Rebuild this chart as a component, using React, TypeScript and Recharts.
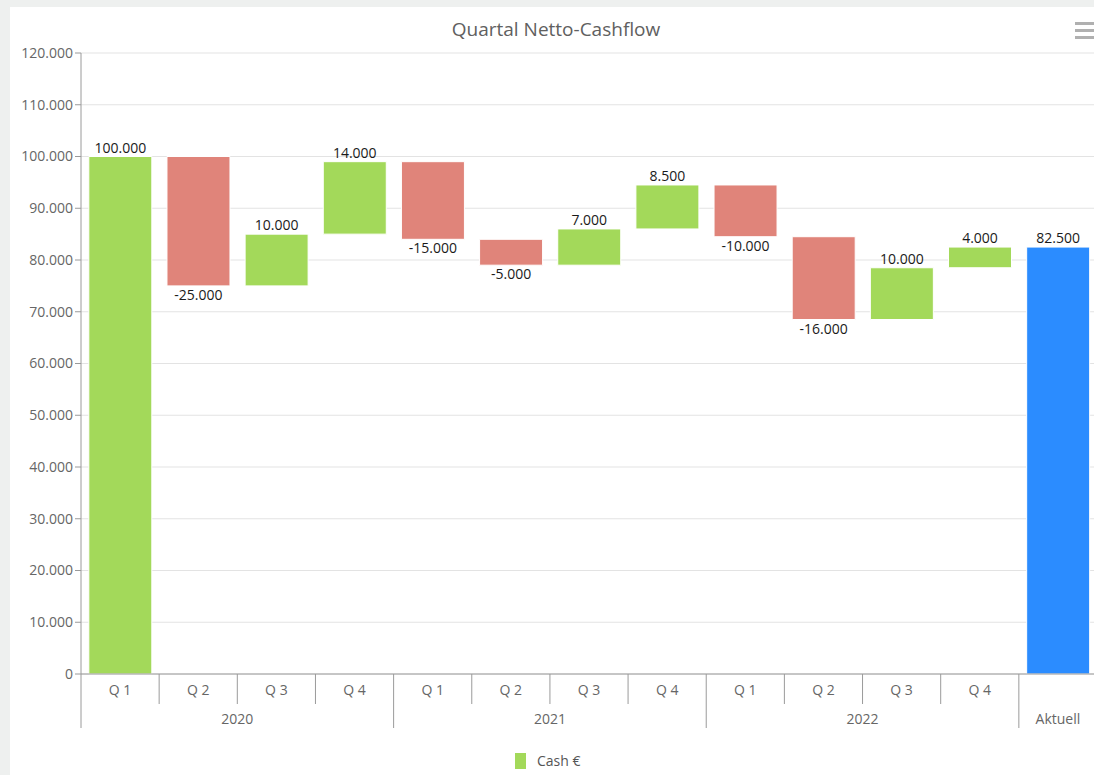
import React from "react";
import { Bar, BarChart, CartesianGrid, Cell, LabelList, XAxis, YAxis } from "recharts";

// quarter labels (lower axis row) and the year each quarter belongs to
const quarters = ["Q 1", "Q 2", "Q 3", "Q 4", "Q 1", "Q 2", "Q 3", "Q 4", "Q 1", "Q 2", "Q 3", "Q 4"];
const years = ["2020", "2020", "2020", "2020", "2021", "2021", "2021", "2021", "2022", "2022", "2022", "2022"];
const sumLabel = "Aktuell";

// net cashflow per quarter (first value = starting cash)
const cashflow = [100000, -25000, 10000, 14000, -15000, -5000, 7000, 8500, -10000, -16000, 10000, 4000];

const yTicks = [0, 10000, 20000, 30000, 40000, 50000, 60000, 70000, 80000, 90000, 100000, 110000, 120000];

const COLORS = { up: "#a3d95a", down: "#e0847a", sum: "#2b8cff" };

type Row = {
  key: string;
  quarter: string;
  year: string;
  change: number;
  range: [number, number];
  kind: "up" | "down" | "sum";
};

let running = 0;
const data: Row[] = cashflow.map((v, i) => {
  const start = running;
  running += v;
  return {
    key: `${years[i]} ${quarters[i]}`,
    quarter: quarters[i],
    year: years[i],
    change: v,
    range: [Math.min(start, running), Math.max(start, running)],
    kind: v >= 0 ? "up" : "down",
  };
});
data.push({ key: sumLabel, quarter: "", year: sumLabel, change: running, range: [0, running], kind: "sum" });

// layout (svg coords == page coords)
const CHART_W = 1110;
const CHART_H = 775;
const PLOT_LEFT = 81;
const PLOT_TOP = 53;
const PLOT_RIGHT = 1097;
const PLOT_BOTTOM = 674;
const BW = (PLOT_RIGHT - PLOT_LEFT) / data.length;
const AXIS_COLOR = "#9a9a9a";
const LABEL_COLOR = "#666666";
const FONT = 14;

const fmt = (v: number) => {
  const s = Math.abs(v).toFixed(0).replace(/\B(?=(\d{3})+(?!\d))/g, ".");
  return v < 0 ? `-${s}` : s;
};

const XTick = (props: any) => {
  const { x, index } = props;
  const d = data[index];
  if (!d) return null;
  const left = x - BW / 2;
  const groupStart = index === 0 || data[index - 1].year !== d.year;
  let span = 1;
  while (index + span < data.length && data[index + span].year === d.year) span++;
  return (
    <g>
      <line x1={left} x2={left} y1={PLOT_BOTTOM} y2={groupStart ? 728 : 704} stroke={AXIS_COLOR} strokeWidth={1} />
      {d.quarter && (
        <text x={x} y={695} textAnchor="middle" fill={LABEL_COLOR} fontSize={FONT}>
          {d.quarter}
        </text>
      )}
      {groupStart && (
        <text x={left + (span * BW) / 2} y={724} textAnchor="middle" fill={LABEL_COLOR} fontSize={FONT}>
          {d.year}
        </text>
      )}
    </g>
  );
};

const renderLabel = (props: any) => {
  const { x, y, width, height, value } = props;
  const top = Math.min(Number(y), Number(y) + Number(height));
  const bottom = Math.max(Number(y), Number(y) + Number(height));
  const cx = Number(x) + Number(width) / 2;
  const below = Number(value) < 0;
  return (
    <text x={cx} y={below ? bottom + 14 : top - 4} textAnchor="middle" fontSize={FONT} fill="#1a1a1a">
      {fmt(Number(value))}
    </text>
  );
};

export default function App() {
  return (
    <div
      style={{
        position: "fixed",
        left: 0,
        top: 0,
        width: 1094,
        height: 775,
        overflow: "hidden",
        background: "#eef0ef",
        fontFamily: "'Open Sans', sans-serif",
      }}
    >
      <div style={{ position: "absolute", left: 10, top: 7, right: 0, bottom: 0, background: "#ffffff" }} />
      <div style={{ position: "absolute", left: 0, width: 1110, top: 16, fontSize: 19, color: "#606060" }}>
        <span style={{ position: "absolute", left: 556, transform: "translateX(-50%)", whiteSpace: "nowrap" }}>
          Quartal Netto-Cashflow
        </span>
      </div>
      {[22, 29, 36].map((t) => (
        <div key={t} style={{ position: "absolute", left: 1075, top: t, width: 22, height: 3, background: "#b0b0b0" }} />
      ))}
      <div style={{ position: "absolute", left: 0, top: 0 }}>
        <BarChart
          width={CHART_W}
          height={CHART_H}
          data={data}
          margin={{ top: PLOT_TOP, right: CHART_W - PLOT_RIGHT, bottom: 41, left: 0 }}
          barCategoryGap="10%"
        >
          <CartesianGrid vertical={false} stroke="#e3e3e3" />
          <YAxis
            width={PLOT_LEFT}
            domain={[0, 120000]}
            ticks={yTicks}
            interval={0}
            tickFormatter={fmt}
            tick={{ fontSize: FONT, fill: LABEL_COLOR }}
            axisLine={{ stroke: AXIS_COLOR }}
            tickLine={{ stroke: AXIS_COLOR }}
          />
          <XAxis
            dataKey="key"
            height={CHART_H - PLOT_BOTTOM - 41}
            interval={0}
            tick={<XTick />}
            tickLine={false}
            axisLine={{ stroke: AXIS_COLOR }}
          />
          <Bar dataKey="range" isAnimationActive={false} stroke="#ffffff" strokeWidth={1}>
            {data.map((d) => (
              <Cell key={d.key} fill={COLORS[d.kind]} />
            ))}
            <LabelList dataKey="change" content={renderLabel} />
          </Bar>
        </BarChart>
      </div>
      <div
        style={{
          position: "absolute",
          left: 515,
          top: 751,
          display: "flex",
          alignItems: "center",
          fontSize: FONT,
          color: "#555555",
        }}
      >
        <span style={{ display: "inline-block", width: 11, height: 16, background: COLORS.up, marginRight: 11 }} />
        <span>Cash €</span>
      </div>
    </div>
  );
}
